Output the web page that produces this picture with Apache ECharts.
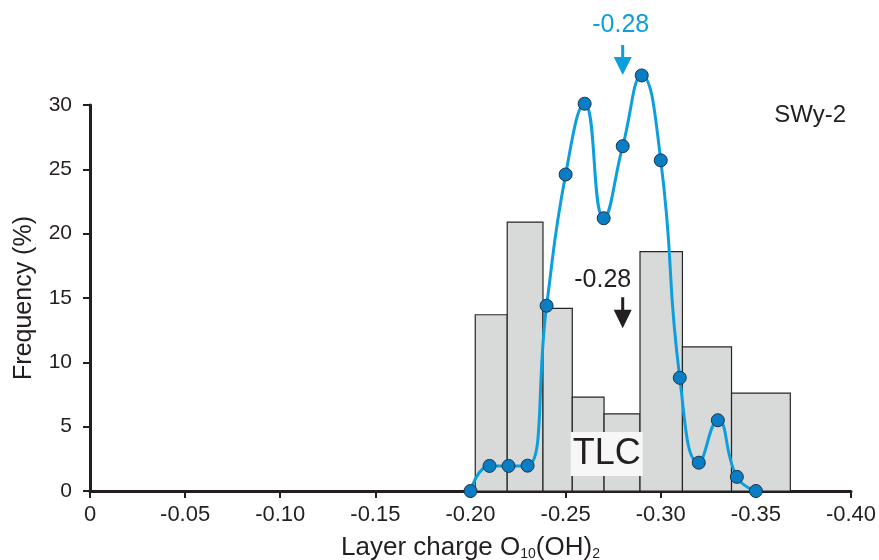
<!DOCTYPE html>
<html>
<head>
<meta charset="utf-8">
<script src="https://cdn.jsdelivr.net/npm/echarts@6/dist/echarts.min.js"></script>
<style>html,body{margin:0;padding:0;background:#fff}#c{width:879px;height:560px}</style>
</head>
<body>
<div id="c"></div>
<script>
// Histogram bins (TLC)
const binStart = [-0.2025, -0.2193, -0.2381, -0.2535, -0.2702, -0.2891, -0.3114, -0.3372];
const binEnd   = [-0.2193, -0.2381, -0.2535, -0.2702, -0.2891, -0.3114, -0.3372, -0.3681];
const binFreq  = [13.7, 20.9, 14.2, 7.3, 6.0, 18.6, 11.2, 7.6];
// Smoothed distribution (blue curve)
const chargeX = [-0.20, -0.21, -0.22, -0.23, -0.24, -0.25, -0.26, -0.27, -0.28, -0.29, -0.30, -0.31, -0.32, -0.33, -0.34, -0.35];
const freqY   = [0, 1.95, 1.95, 1.97, 14.4, 24.6, 30.1, 21.2, 26.8, 32.3, 25.7, 8.8, 2.2, 5.5, 1.1, 0];
// Annotations
const meanCharge = -0.28;
const meanLabel = '-0.28';
const sampleName = 'SWy-2';
const methodName = 'TLC';
const yTicks = [0, 5, 10, 15, 20, 25, 30];

const FONT = '"Liberation Sans", Arial, Helvetica, sans-serif';
const INK = '#231f20';
const BLUE = '#0d9fdc';

const chart = echarts.init(document.getElementById('c'), null, {renderer: 'canvas'});

const arrowPath = 'path://M7.5,0 L10.5,0 L10.5,12 L18,12 L9,30 L0,12 L7.5,12 Z';

chart.setOption({
  animation: false,
  backgroundColor: '#ffffff',
  textStyle: {fontFamily: FONT, color: INK},
  title: {
    text: sampleName,
    right: 28, top: 98,
    textStyle: {fontFamily: FONT, fontSize: 24, fontWeight: 'normal', color: INK}
  },
  grid: {left: 90, right: 28, top: 105, bottom: 69, containLabel: false, outerBoundsMode: 'none'},
  xAxis: {
    type: 'value',
    inverse: true,
    min: -0.4, max: 0, interval: 0.05,
    name: 'Layer charge O{sub|10}(OH){sub|2}',
    nameLocation: 'middle',
    nameGap: 44,
    nameTextStyle: {
      fontFamily: FONT, fontSize: 26, color: INK, verticalAlign: 'top',
      rich: {sub: {fontFamily: FONT, fontSize: 14, color: INK, verticalAlign: 'bottom', padding: [11, 0, 0, 0]}}
    },
    axisLine: {show: true, onZero: false, lineStyle: {color: INK, width: 3}},
    axisTick: {show: true, inside: false, length: 7, lineStyle: {color: INK, width: 2}},
    axisLabel: {
      margin: 13, fontSize: 22, color: INK, fontFamily: FONT,
      formatter: v => Math.abs(v) < 1e-9 ? '0' : v.toFixed(2)
    },
    splitLine: {show: false}
  },
  yAxis: {
    type: 'value',
    min: yTicks[0], max: yTicks[yTicks.length - 1], interval: 5,
    name: 'Frequency (%)',
    nameLocation: 'middle',
    nameGap: 53,
    nameTextStyle: {fontFamily: FONT, fontSize: 25, color: INK},
    axisLine: {show: true, lineStyle: {color: INK, width: 3}},
    axisTick: {show: true, inside: false, length: 7, lineStyle: {color: INK, width: 2}},
    axisLabel: {margin: 18, fontSize: 21, color: INK, fontFamily: FONT},
    splitLine: {show: false}
  },
  series: [
    {
      type: 'custom',
      name: 'hist',
      z: 1,
      data: binStart.map((s, i) => [s, binEnd[i], binFreq[i]]),
      encode: {x: [0, 1], y: 2},
      renderItem: function (params, api) {
        const p0 = api.coord([api.value(0), api.value(2)]);
        const p1 = api.coord([api.value(1), 0]);
        return {
          type: 'rect',
          shape: {
            x: Math.min(p0[0], p1[0]), y: p0[1],
            width: Math.abs(p1[0] - p0[0]), height: p1[1] - p0[1]
          },
          style: {fill: '#d8dada', stroke: '#262626', lineWidth: 1.2}
        };
      }
    },
    {
      type: 'line',
      name: 'curve',
      z: 3,
      clip: false,
      smooth: 0.5,
      data: chargeX.map((x, i) => [x, freqY[i]]),
      symbol: 'circle',
      symbolSize: 13,
      lineStyle: {color: BLUE, width: 3},
      itemStyle: {color: '#0a7ec5', borderColor: '#1c3348', borderWidth: 1, opacity: 1}
    },
    {
      type: 'scatter',
      name: 'arrowBlue',
      z: 5,
      clip: false,
      symbol: arrowPath,
      symbolSize: [18, 30],
      itemStyle: {color: BLUE, opacity: 1},
      data: [[meanCharge, 33.5]],
      label: {
        show: true, position: 'top', distance: 7, offset: [-2, 0],
        formatter: meanLabel, fontSize: 25, color: BLUE, fontFamily: FONT
      }
    },
    {
      type: 'scatter',
      name: 'arrowBlack',
      z: 5,
      clip: false,
      symbol: arrowPath,
      symbolSize: [18, 31],
      itemStyle: {color: INK, opacity: 1},
      data: [[meanCharge, 13.85]],
      label: {
        show: true, position: 'top', distance: 5, offset: [-20, 0],
        formatter: meanLabel, fontSize: 25, color: INK, fontFamily: FONT
      }
    },
    {
      type: 'scatter',
      name: 'method',
      z: 6,
      clip: false,
      symbolSize: 0,
      itemStyle: {opacity: 1},
      data: [[-0.2716, 2.87]],
      label: {
        show: true, position: 'inside',
        formatter: methodName, fontSize: 36, color: INK, fontFamily: FONT,
        backgroundColor: '#f7f7f7', padding: [4, 2, 4, 2]
      }
    }
  ]
});
</script>
</body>
</html>
